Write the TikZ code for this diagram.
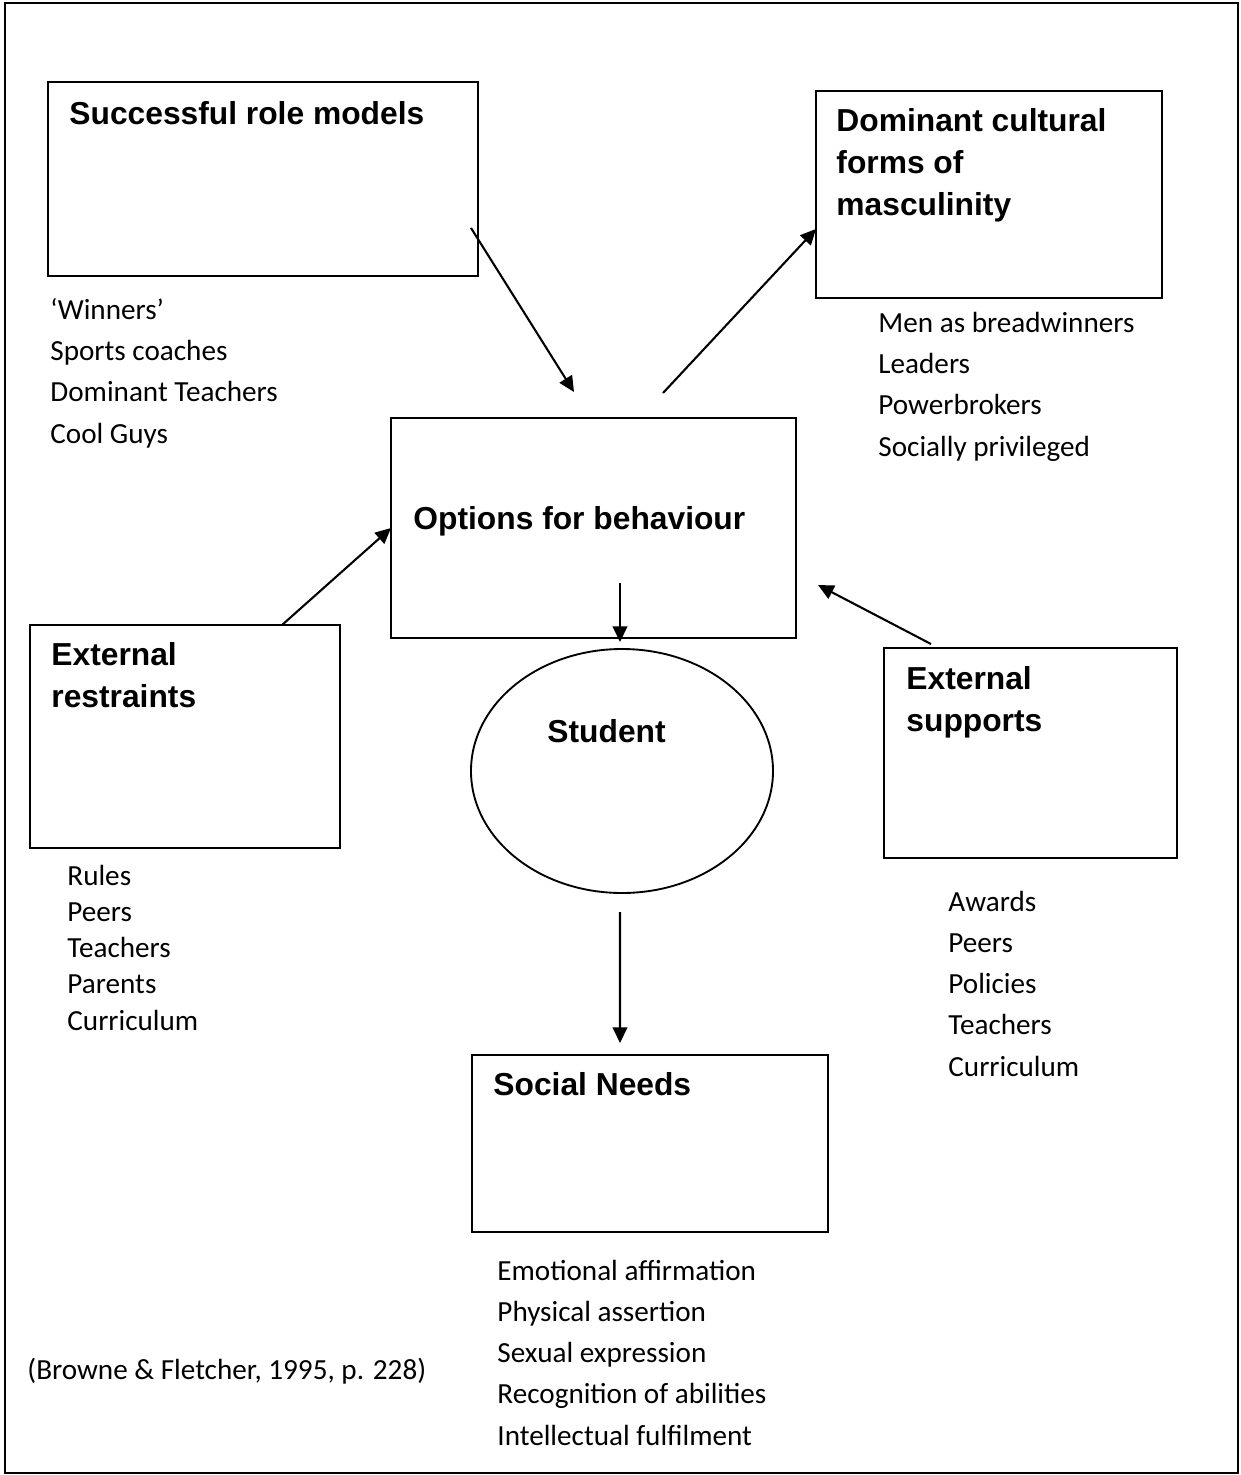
\documentclass[tikz,border=0pt]{standalone}
\usepackage{fontspec}
\setmainfont{Carlito}
\newfontfamily\headfont{Liberation Sans}
\usetikzlibrary{arrows.meta, shapes.geometric}

\begin{document}
\begin{tikzpicture}[x=0.48pt, y=-0.48pt, >={Triangle[length=7.5pt, width=7pt]}]

% Page frame
\useasboundingbox (0,0) rectangle (1241,1475);
\draw[line width=0.9pt] (5,3) rectangle (1238,1473);

\tikzset{
    box/.style={
        draw, line width=0.9pt, rectangle,
        inner sep=0pt, outer sep=0pt, anchor=north west
    },
    head/.style={
        font=\headfont\bfseries\fontsize{15.25}{20}\selectfont,
        inner sep=0pt, anchor=base west, align=left
    },
    list/.style={
        font=\fontsize{14}{19.7}\selectfont,
        inner sep=0pt, anchor=base west, align=left
    },
    link/.style={
        ->, line width=1pt
    }
}

% Boxes
\node[box, minimum width=206.4pt, minimum height=93.12pt] (models) at (48,82) {};
\node[box, minimum width=166.08pt, minimum height=99.36pt] (forms) at (816,91) {};
\node[box, minimum width=194.4pt, minimum height=105.6pt] (options) at (391,418) {};
\node[box, minimum width=148.8pt, minimum height=107.04pt] (restraints) at (30,625) {};
\node[box, minimum width=140.64pt, minimum height=100.8pt] (supports) at (884,648) {};
\node[box, minimum width=170.88pt, minimum height=84.96pt] (needs) at (472,1055) {};
\node[draw, ellipse, line width=0.9pt, inner sep=0pt, outer sep=0pt,
      minimum width=144.96pt, minimum height=117.12pt] (student) at (622,771) {};

% Box titles (base = baseline of the last line)
\node[head] (models title) at ([shift={(21,42)}]models.north west) {Successful role models};
\node[head] (forms title) at ([shift={(20,124)}]forms.north west) {Dominant cultural\\forms of\\masculinity};
\node[head] (options title) at ([shift={(22,111)}]options.north west) {Options for behaviour};
\node[head] (restraints title) at ([shift={(21,82)}]restraints.north west) {External\\restraints};
\node[head] (supports title) at ([shift={(22,83)}]supports.north west) {External\\supports};
\node[head] (student title) at ([shift={(-75,93)}]student.north) {Student};
\node[head] (needs title) at ([shift={(21,40)}]needs.north west) {Social Needs};

% Lists under the boxes
\node[list] (models list) at ([shift={(2,167)}]models.south west) {‘Winners’\\Sports coaches\\Dominant Teachers\\Cool Guys};
\node[list] (forms list) at ([shift={(62,158)}]forms.south west) {Men as breadwinners\\Leaders\\Powerbrokers\\Socially privileged};
\node[list, font=\fontsize{14}{17.3}\selectfont] (restraints list) at ([shift={(37,182)}]restraints.south west) {Rules\\Peers\\Teachers\\Parents\\Curriculum};
\node[list] (supports list) at ([shift={(64,218)}]supports.south west) {Awards\\Peers\\Policies\\Teachers\\Curriculum};
\node[list] (needs list) at ([shift={(25,213)}]needs.south west) {Emotional affirmation\\Physical assertion\\Sexual expression\\Recognition of abilities\\Intellectual fulfilment};

% Source
\node[list] (source) at (27,1379) {(Browne \& Fletcher, 1995, p. 228)};

% Free ends of the arrows
\coordinate (models out) at ([shift={(-7,-48)}]models.south east);
\coordinate (options in) at ([shift={(-19.5,-26)}]options.north);
\coordinate (options up) at ([shift={(69.5,-25)}]options.north);
\coordinate (forms in) at ([shift={(0,34.5)}]forms.west);
\coordinate (restraints out) at ([shift={(-58,0)}]restraints.north east);
\coordinate (supports out) at ([shift={(47,-4)}]supports.north west);
\coordinate (options right) at ([shift={(22,57)}]options.east);
\coordinate (options down) at ([shift={(-2,-66)}]student.north);
\coordinate (student in) at ([shift={(-2,-7)}]student.north);
\coordinate (student out) at ([shift={(-2,19)}]student.south);
\coordinate (needs in) at ([shift={(-30,-12)}]needs.north);

% Arrows
\draw[link] (models out) -- (options in);
\draw[link] (options up) -- (forms in);
\draw[link] (restraints out) -- (options.west);
\draw[link] (supports out) -- (options right);
\draw[link] (options down) -- (student in);
\draw[link] (student out) -- (needs in);

\end{tikzpicture}
\end{document}
